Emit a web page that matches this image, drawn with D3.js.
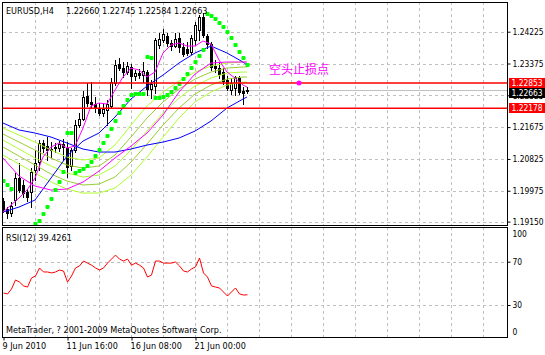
<!DOCTYPE html>
<html>
<head>
<meta charset="utf-8">
<script src="https://cdn.jsdelivr.net/npm/d3@7"></script>
<style>
  body { margin: 0; background: #fff; }
  svg text { font-family: "DejaVu Sans Condensed", "DejaVu Sans", sans-serif; font-size: 9px; fill: #000; }
</style>
</head>
<body>
<svg id="chart" width="545" height="355"></svg>
<script>
// EURUSD H4 candles, 62 bars (9 Jun 2010 00:00 .. 23 Jun 04:00)
const opens = [1.19699,1.19485,1.19379,1.19726,1.20314,1.20127,1.19940,1.19940,1.20528,1.20742,
  1.21250,1.21169,1.21089,1.21116,1.21116,1.21223,1.21116,1.20635,1.21063,1.21731,
  1.21891,1.22506,1.22346,1.22292,1.22185,1.22051,1.22132,1.22239,1.22853,1.23361,
  1.23254,1.23147,1.23281,1.23041,1.23121,1.23067,1.23147,1.22693,1.22773,1.23869,
  1.24003,1.24110,1.23923,1.23842,1.24056,1.23816,1.23762,1.23682,1.24003,1.24270,
  1.24618,1.24110,1.23896,1.23308,1.23254,1.23147,1.22934,1.22666,1.22720,1.22987,
  1.22640,1.22660];
const highs = [1.19780,1.19539,1.19673,1.20448,1.20715,1.20261,1.20020,1.20581,1.21063,1.21330,
  1.21330,1.21410,1.21276,1.21250,1.21303,1.21356,1.21276,1.21116,1.21864,1.22051,
  1.22640,1.22853,1.22880,1.22479,1.22319,1.22319,1.22399,1.22987,1.23468,1.23522,
  1.23415,1.23415,1.23361,1.23201,1.23228,1.23415,1.23201,1.22934,1.24056,1.24190,
  1.24297,1.24190,1.24003,1.24190,1.24190,1.23923,1.23949,1.24136,1.24484,1.24671,
  1.24725,1.24163,1.23949,1.23468,1.23415,1.23254,1.23041,1.22987,1.23041,1.23041,
  1.22746,1.22745];
const lows = [1.19405,1.19245,1.19298,1.19592,1.19940,1.19806,1.19699,1.19539,1.20261,1.20528,
  1.21009,1.20795,1.20875,1.21009,1.21036,1.20795,1.20341,1.20528,1.21009,1.21677,
  1.21864,1.22239,1.22185,1.22078,1.21998,1.21971,1.21731,1.22185,1.22800,1.23201,
  1.23014,1.23094,1.22720,1.22934,1.22987,1.22880,1.22533,1.22452,1.22586,1.23789,
  1.23949,1.23842,1.23736,1.23816,1.23682,1.23575,1.23602,1.23629,1.23869,1.24003,
  1.24083,1.23789,1.23201,1.23147,1.22987,1.22827,1.22666,1.22559,1.22533,1.22559,
  1.22292,1.22584];
const closes = [1.19485,1.19379,1.19566,1.20314,1.19993,1.19913,1.19806,1.20474,1.20715,1.21250,
  1.21116,1.21063,1.21063,1.21143,1.21223,1.21143,1.20608,1.21063,1.21731,1.21891,
  1.22479,1.22319,1.22292,1.22185,1.22051,1.22158,1.22292,1.22880,1.23335,1.23254,
  1.23147,1.23308,1.23041,1.23121,1.23067,1.23174,1.22693,1.22827,1.24003,1.24030,
  1.24163,1.23923,1.23842,1.24030,1.23816,1.23629,1.23655,1.24056,1.24404,1.24618,
  1.24136,1.23896,1.23281,1.23254,1.23094,1.22907,1.22720,1.22853,1.23014,1.22613,
  1.22586,1.22663];

// Parabolic SAR, null where it falls outside the window
const sar = [1.20234,1.20127,1.20020,null,null,null,null,null,1.19085,1.19165,
  1.19352,1.19539,1.19753,1.19993,1.20207,1.20474,1.21517,1.21517,1.20448,1.20501,
  1.20555,1.20635,1.20742,1.20902,1.21063,1.21250,1.21437,1.21624,1.21838,1.22051,
  1.22239,1.22399,1.22533,1.22559,1.22559,1.22559,1.23548,1.23522,1.22452,1.22452,
  1.22479,1.22533,1.22613,1.22720,1.22827,1.22960,1.23094,1.23254,1.23415,1.23575,
  1.23736,1.24698,1.24644,1.24564,1.24457,1.24350,1.24217,1.24056,1.23869,1.23682,
  1.23522,1.23335];

// RSI(12)
const rsi = [41.1,40.2,44.8,53.1,51.2,47.6,46.6,54.9,56.8,64.2,
  60.5,60.5,59.6,60.5,62.3,61.4,51.2,56.8,64.2,66.1,
  70.6,68.7,66.8,64.2,62.3,64.2,68.7,72.4,76.1,72.4,
  70.6,72.4,66.8,68.7,66.8,64.2,55.8,57.7,70.6,70.6,
  68.7,68.7,68.7,69.7,66.1,61.4,60.5,63.3,65.2,73.4,
  59.6,55.8,47.6,46.6,45.7,42.0,38.3,42.0,45.7,40.2,
  39.2,39.4261];

// moving averages, read every 4th bar
const maIdx = [0,4,8,12,16,20,24,28,32,36,40,44,48,52,56,60,61];
const blueSlow = [1.21784,1.21598,1.21517,1.21410,1.21250,1.21089,1.21009,1.21009,1.21089,1.21196,1.21276,1.21383,1.21570,1.21838,1.22185,1.22426,1.22479];
const blueFast = [1.19405,1.19539,1.19726,1.20314,1.20902,1.21303,1.21517,1.21945,1.22426,1.22773,1.23067,1.23388,1.23655,1.23842,1.23655,1.23415,1.23335];
const magSlow = [1.20849,1.20368,1.20100,1.19993,1.20020,1.20207,1.20501,1.20849,1.21169,1.21517,1.21998,1.22613,1.23094,1.23388,1.23415,1.23415,1.23415];
const fan1 = [1.21651,1.21463,1.21276,1.21063,1.20875,1.20795,1.20849,1.21196,1.21731,1.22239,1.22613,1.22907,1.23147,1.23308,1.23388,1.23415,1.23415];
const fan2 = [1.21490,1.21276,1.21063,1.20849,1.20662,1.20581,1.20635,1.20929,1.21410,1.21918,1.22346,1.22693,1.22960,1.23147,1.23254,1.23281,1.23281];
const fan3 = [1.21330,1.21089,1.20849,1.20635,1.20448,1.20341,1.20394,1.20635,1.21063,1.21570,1.22051,1.22452,1.22773,1.22987,1.23121,1.23147,1.23147];
const fan4 = [1.21143,1.20902,1.20662,1.20421,1.20234,1.20127,1.20154,1.20341,1.20742,1.21223,1.21731,1.22185,1.22559,1.22800,1.22960,1.23014,1.23014];
const fan5 = [1.20929,1.20688,1.20448,1.20207,1.20020,1.19913,1.19913,1.20047,1.20394,1.20875,1.21410,1.21918,1.22346,1.22613,1.22800,1.22880,1.22880];

// fast magenta MA, read every 2nd bar
const magIdx = [0,2,4,6,8,10,12,14,16,18,20,22,24,26,28,30,32,34,36,38,40,42,44,46,48,50,52,54,56,58,60,61];
const magFast = [1.19405,1.19592,1.19780,1.19993,1.20314,1.20875,1.21143,1.21250,1.21116,1.21169,
  1.21651,1.22239,1.22319,1.22292,1.22666,1.23014,1.23254,1.23201,1.23014,1.23147,
  1.23655,1.23869,1.23923,1.23842,1.23842,1.23976,1.23896,1.23468,1.23147,1.22987,
  1.22800,1.22746];

const priceTicks = [1.24225, 1.23375, 1.22525, 1.21675, 1.20825, 1.19975, 1.19150];
const rsiTicks = [100, 70, 30, 0];
const rsiLevels = [70, 30];
const timeTicks = [0, 16, 32, 48];
const timeLabels = ["9 Jun 2010", "11 Jun 16:00", "16 Jun 08:00", "21 Jun 00:00"];
const gridBars = [8,16,24,32,40,48,56,64,72,80,88,96,104,112,120];
const stopLevels = [1.22853, 1.22178];
const lastPrice = 1.22663;
const stopMark = { bar: 74, price: 1.22853, text: "空头止损点" };
const symbolText = "EURUSD,H4";
const ohlcText = ["1.22660", "1.22745", "1.22584", "1.22663"];
const rsiTitle = "RSI(12) 39.4261";
const copyright = "MetaTrader, ? 2001-2009 MetaQuotes Software Corp.";

const svg = d3.select("#chart");
const W = 545, panelR = 507;
const main = { top: 2, bottom: 225 };
const sub = { top: 227, bottom: 337 };

const x = d3.scaleLinear().domain([0, 126]).range([3, 507]);
const y = d3.scaleLinear().domain([1.19150, 1.24225]).range([221.6, 31.7]);
const yr = d3.scaleLinear().domain([0, 100]).range([337.5, 229.2]);
const px = i => Math.round(x(i));
const py = v => Math.round(y(v));

svg.append("rect").attr("width", W).attr("height", 355).attr("fill", "#fff");

const defs = svg.append("defs");
defs.append("clipPath").attr("id", "clipMain").append("rect")
  .attr("x", 3).attr("y", main.top + 1).attr("width", panelR - 3).attr("height", main.bottom - main.top - 1);
defs.append("clipPath").attr("id", "clipSub").append("rect")
  .attr("x", 3).attr("y", sub.top + 1).attr("width", panelR - 3).attr("height", sub.bottom - sub.top - 1);

// grid
const grid = svg.append("g").attr("stroke", "#c0c0c0").attr("stroke-dasharray", "3,3")
  .attr("shape-rendering", "crispEdges");
grid.selectAll(".vm").data(gridBars).enter().append("line")
  .attr("x1", d => px(d) + 0.5).attr("x2", d => px(d) + 0.5)
  .attr("y1", main.top).attr("y2", main.bottom);
grid.selectAll(".vs").data(gridBars).enter().append("line")
  .attr("x1", d => px(d) + 0.5).attr("x2", d => px(d) + 0.5)
  .attr("y1", sub.top).attr("y2", sub.bottom);
grid.selectAll(".hm").data(priceTicks).enter().append("line")
  .attr("x1", 3).attr("x2", panelR)
  .attr("y1", d => py(d) + 0.5).attr("y2", d => py(d) + 0.5);
grid.selectAll(".hs").data(rsiLevels).enter().append("line")
  .attr("x1", 3).attr("x2", panelR)
  .attr("y1", d => Math.round(yr(d)) + 0.5).attr("y2", d => Math.round(yr(d)) + 0.5);

const g = svg.append("g").attr("clip-path", "url(#clipMain)");

// bid line
g.append("line").attr("x1", 3).attr("x2", panelR)
  .attr("y1", py(lastPrice) + 0.5).attr("y2", py(lastPrice) + 0.5)
  .attr("stroke", "#c0c0c0").attr("shape-rendering", "crispEdges");

// candles
const bars = d3.range(opens.length);
const bull = i => closes[i] >= opens[i];
const candles = g.append("g").attr("shape-rendering", "crispEdges");
candles.selectAll(".wick").data(bars).enter().append("line")
  .attr("x1", i => px(i) + 0.5).attr("x2", i => px(i) + 0.5)
  .attr("y1", i => py(highs[i])).attr("y2", i => py(lows[i]) + 1)
  .attr("stroke", "#000");
candles.selectAll(".body").data(bars).enter().append("rect")
  .attr("x", i => bull(i) ? px(i) - 0.5 : px(i) - 1)
  .attr("y", i => py(Math.max(opens[i], closes[i])) + (bull(i) ? 0.5 : 0))
  .attr("width", i => bull(i) ? 2 : 3)
  .attr("height", i => Math.max(1, py(Math.min(opens[i], closes[i])) - py(Math.max(opens[i], closes[i])) + (bull(i) ? 0 : 1)))
  .attr("fill", i => bull(i) ? "#fff" : "#000")
  .attr("stroke", i => bull(i) ? "#000" : "none");

// moving averages
const lineOf = idx => d3.line().x((d, k) => x(idx[k])).y(d => y(d));
const fanColors = ["#adff2f", "#9acd32", "#adff2f", "#9acd32", "#adff2f"];
[fan1, fan2, fan3, fan4, fan5].forEach((s, k) => {
  g.append("path").datum(s).attr("d", lineOf(maIdx))
    .attr("fill", "none").attr("stroke", fanColors[k]).attr("stroke-width", 1);
});
g.append("path").datum(blueSlow).attr("d", lineOf(maIdx))
  .attr("fill", "none").attr("stroke", "#0000ff");
g.append("path").datum(blueFast).attr("d", lineOf(maIdx))
  .attr("fill", "none").attr("stroke", "#0000ff");
g.append("path").datum(magSlow).attr("d", lineOf(maIdx))
  .attr("fill", "none").attr("stroke", "#ff00ff");
g.append("path").datum(magFast).attr("d", lineOf(magIdx))
  .attr("fill", "none").attr("stroke", "#ff00ff");

// parabolic SAR
g.selectAll(".sar").data(bars.filter(i => sar[i] !== null)).enter().append("rect")
  .attr("x", i => px(i) - 1.5).attr("y", i => y(sar[i]) - 2)
  .attr("width", 4).attr("height", 4).attr("rx", 1)
  .attr("fill", "#00ff00");

// stop lines
g.selectAll(".stop").data(stopLevels).enter().append("line")
  .attr("x1", 3).attr("x2", panelR)
  .attr("y1", d => y(d)).attr("y2", d => y(d))
  .attr("stroke", "#ff0000").attr("stroke-width", 1.5);

// stop marker + label
g.append("circle").attr("cx", x(stopMark.bar)).attr("cy", y(stopMark.price)).attr("r", 2.5)
  .attr("fill", "#ff00ff");
g.append("text").attr("x", x(stopMark.bar)).attr("y", y(stopMark.price) - 9)
  .attr("text-anchor", "middle")
  .style("font-family", "'Noto Sans CJK SC', sans-serif").style("font-size", "12px")
  .style("fill", "#ff00ff").text(stopMark.text);

// RSI panel
const gs = svg.append("g").attr("clip-path", "url(#clipSub)");
gs.append("path").datum(rsi)
  .attr("d", d3.line().x((d, i) => x(i) + 0.5).y(d => yr(d)))
  .attr("fill", "none").attr("stroke", "#ff0000");

// panel frames
svg.append("rect").attr("x", 2.5).attr("y", main.top + 0.5).attr("width", panelR - 2)
  .attr("height", main.bottom - main.top).attr("fill", "none").attr("stroke", "#000")
  .attr("shape-rendering", "crispEdges");
svg.append("rect").attr("x", 2.5).attr("y", sub.top + 0.5).attr("width", panelR - 2)
  .attr("height", sub.bottom - sub.top).attr("fill", "none").attr("stroke", "#000")
  .attr("shape-rendering", "crispEdges");

// price axis; the bid tag drawn next partly covers the 1.22525 label, as in MT4
const axisFont = "8.4px";
const yAxis = svg.append("g").attr("transform", `translate(${panelR + 0.5},0)`)
  .call(d3.axisRight(y).tickValues(priceTicks).tickSize(3).tickPadding(2).tickFormat(d3.format(".5f")));
yAxis.select(".domain").remove();
yAxis.selectAll("text").style("font-size", axisFont);

// price tags
const tagH = 11;
const tags = [
  { v: stopLevels[0], c: "#ff0000", top: py(stopLevels[0]) - 5 },
  { v: lastPrice, c: "#000000", top: 0 },
  { v: stopLevels[1], c: "#ff0000", top: py(stopLevels[1]) - 5 }
];
tags[1].top = tags[0].top + tagH - 1;
const tg = svg.append("g");
tg.selectAll("rect").data(tags).enter().append("rect")
  .attr("x", panelR + 2).attr("y", d => d.top).attr("width", W - panelR - 2).attr("height", tagH - 1)
  .attr("fill", d => d.c);
tg.selectAll("text").data(tags).enter().append("text")
  .attr("x", panelR + 4.5).attr("y", d => d.top + (tagH - 1) / 2)
  .attr("dy", "0.36em").style("fill", "#fff").style("font-size", axisFont)
  .text(d => d3.format(".5f")(d.v));

// RSI axis
const rAxis = svg.append("g").attr("transform", `translate(${panelR + 0.5},0)`)
  .call(d3.axisRight(yr).tickValues(rsiTicks).tickSize(3).tickPadding(2));
rAxis.select(".domain").remove();
rAxis.selectAll("text").style("font-size", axisFont)
  .attr("dy", d => d === 100 ? "0.85em" : d === 0 ? "-0.4em" : "0.32em");
rAxis.selectAll("line").filter(d => d === 100 || d === 0).remove();

// time axis
const tAxis = svg.append("g").attr("transform", `translate(0,${sub.bottom + 0.5})`)
  .call(d3.axisBottom(x).tickValues(timeTicks).tickSize(3).tickPadding(2)
    .tickFormat((d, k) => timeLabels[k]));
tAxis.select(".domain").remove();
tAxis.selectAll("line").attr("transform", "translate(0.5,0)");
tAxis.selectAll("text").attr("text-anchor", "start").attr("x", -1).style("font-size", "9px");

// titles
svg.append("text").attr("x", 6).attr("y", 14).text(symbolText);
svg.selectAll(".ohlc").data(ohlcText).enter().append("text")
  .attr("x", (d, k) => 66 + k * 36).attr("y", 14).text(d => d);
svg.append("text").attr("x", 6).attr("y", 240.5).text(rsiTitle);
svg.append("text").attr("x", 6).attr("y", 333).text(copyright);
</script>
</body>
</html>
